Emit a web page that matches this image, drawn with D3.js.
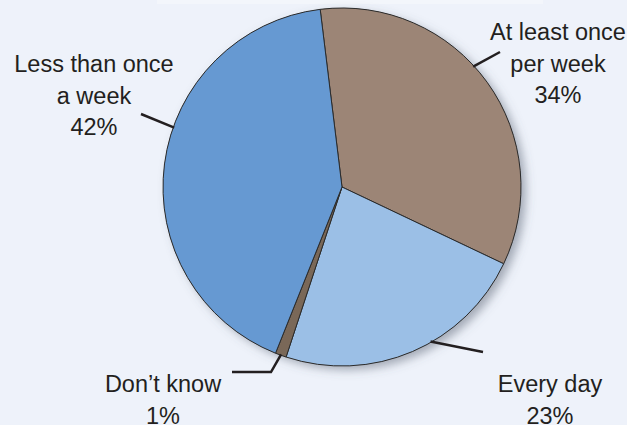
<!DOCTYPE html>
<html>
<head>
<meta charset="utf-8">
<script src="https://cdn.jsdelivr.net/npm/d3@7"></script>
<style>
  body { margin: 0; background: #eef2fa; }
  svg { display: block; }
  text { font-family: "Liberation Sans", Arial, sans-serif; fill: #231f20; }
</style>
</head>
<body>
<div id="chart"></div>
<script>
// Data
const categories = ["At least once per week", "Every day", "Don\u2019t know", "Less than once a week"];
const shares = [34, 23, 1, 42];
const labelLines = [
  ["At least once", "per week", "34%"],
  ["Every day", "23%"],
  ["Don\u2019t know", "1%"],
  ["Less than once", "a week", "42%"]
];
const colors = ["#9c8576", "#9bbfe6", "#7a6858", "#6699d2"];

const width = 627, height = 425;
const cx = 342, cy = 187, radius = 179;

const svg = d3.select("#chart")
  .append("svg")
  .attr("width", width)
  .attr("height", height);

// Background
svg.append("rect").attr("width", width).attr("height", height).attr("fill", "#eef2fa");
svg.append("rect").attr("x", 157).attr("y", 0).attr("width", 386).attr("height", 4).attr("fill", "#f3f6fb");

// Drop shadow filter
const defs = svg.append("defs");
const filter = defs.append("filter").attr("id", "shadow")
  .attr("x", "-20%").attr("y", "-20%").attr("width", "140%").attr("height", "140%");
filter.append("feDropShadow")
  .attr("dx", 5).attr("dy", 4)
  .attr("stdDeviation", 5)
  .attr("flood-color", "#556070")
  .attr("flood-opacity", 0.5);

const data = categories.map((c, i) => ({ category: c, value: shares[i], lines: labelLines[i], color: colors[i] }));

// Start angle a bit left of 12 o'clock
const startAngle = -7 * Math.PI / 180;
const pie = d3.pie()
  .value(d => d.value)
  .sort(null)
  .startAngle(startAngle)
  .endAngle(startAngle + 2 * Math.PI);

const arc = d3.arc().innerRadius(0).outerRadius(radius);

const g = svg.append("g").attr("transform", `translate(${cx},${cy})`);

g.append("circle")
  .attr("r", radius)
  .attr("fill", "#777")
  .attr("filter", "url(#shadow)");

g.selectAll("path.slice")
  .data(pie(data))
  .enter()
  .append("path")
  .attr("class", "slice")
  .attr("d", arc)
  .attr("fill", d => d.data.color)
  .attr("stroke", "#2b2b2b")
  .attr("stroke-width", 1)
  .attr("stroke-linejoin", "round");

// Leader lines (start on the rim, at a fraction of each slice's sweep)
const arcs = pie(data);
function rimPoint(angle, r) {
  return [cx + r * Math.sin(angle), cy - r * Math.cos(angle)];
}
const leaderFrac = [0.445, 0.42, 0.5, 0.58];
const leaderAngles = arcs.map((a, i) => a.startAngle + (a.endAngle - a.startAngle) * leaderFrac[i]);
const leaderEnds = [
  [[500, 52]],
  [[483, 352]],
  [[271, 372], [232, 372]],
  [[141, 114]]
];

const line = d3.line();
leaderAngles.forEach((a, i) => {
  const pts = [rimPoint(a, radius - 1)].concat(leaderEnds[i]);
  svg.append("path")
    .attr("d", line(pts))
    .attr("fill", "none")
    .attr("stroke", "#231f20")
    .attr("stroke-width", 2.5);
});

// Labels
const labelPos = [
  { x: 558, y: 40 },
  { x: 550, y: 392 },
  { x: 163, y: 392 },
  { x: 94, y: 72 }
];
const lineHeight = 31.5;

data.forEach((d, i) => {
  const t = svg.append("text")
    .attr("text-anchor", "middle")
    .attr("font-size", "23.5px");
  d.lines.forEach((s, j) => {
    t.append("tspan")
      .attr("x", labelPos[i].x)
      .attr("y", labelPos[i].y + j * lineHeight)
      .text(s);
  });
});
</script>
</body>
</html>
